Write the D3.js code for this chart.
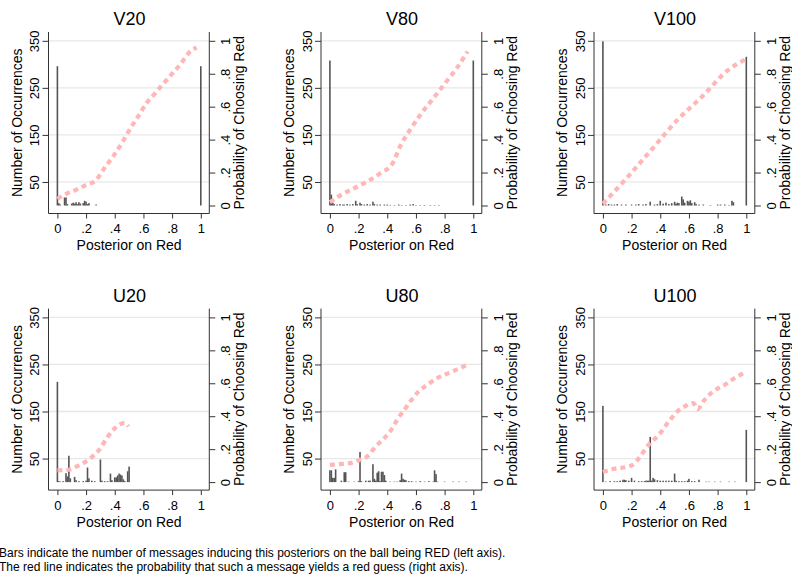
<!DOCTYPE html>
<html><head><meta charset="utf-8">
<script src="https://cdn.jsdelivr.net/npm/d3@7"></script>
<style>
body{margin:0;background:#fff}
svg{display:block}
text{font-family:"Liberation Sans",Arial,Helvetica,sans-serif;fill:#000}
</style>
</head><body>
<svg id="c" width="792" height="579"></svg>
<script>
// ---------- data ----------
const panelNames = ["V20", "V80", "V100", "U20", "U80", "U100"];
const countTicks = [50, 150, 250, 350];
const probTicks = [0, 0.2, 0.4, 0.6, 0.8, 1];
const probTickLabels = ["0", ".2", ".4", ".6", ".8", "1"];
const posteriorTicks = [0, 0.2, 0.4, 0.6, 0.8, 1];
const posteriorTickLabels = ["0", ".2", ".4", ".6", ".8", "1"];
const xTitle = "Posterior on Red";
const leftTitle = "Number of Occurrences";
const rightTitle = "Probability of Choosing Red";
const captionLines = [
  "Bars indicate the number of messages inducing this posteriors on the ball being RED (left axis).",
  "The red line indicates the probability that such a message yields a red guess (right axis)."
];

// V20
const v20BarX = [0, 0.01, 0.02, 0.05, 0.06, 0.07, 0.10, 0.11, 0.12, 0.13, 0.14, 0.15, 0.16, 0.18, 0.19, 0.20, 0.21, 0.22, 0.27, 1];
const v20BarN = [296, 5, 2, 17, 17, 3, 4, 6, 4, 7, 3, 7, 4, 5, 10, 8, 3, 5, 2, 296];
const v20LineX = [0, 0.06, 0.13, 0.2, 0.27, 0.33, 0.39, 0.45, 0.51, 0.57, 0.62, 0.68, 0.74, 0.8, 0.86, 0.91, 0.97];
const v20LineP = [0.04, 0.07, 0.095, 0.125, 0.155, 0.23, 0.3, 0.38, 0.47, 0.55, 0.62, 0.68, 0.74, 0.8, 0.86, 0.92, 0.96];

// V80
const v80BarX = [0, 0.01, 0.02, 0.03, 0.05, 0.07, 0.09, 0.1, 0.12, 0.14, 0.16, 0.18, 0.19, 0.21, 0.22, 0.24, 0.26, 0.28, 0.3, 0.31, 0.33, 0.35, 0.38, 0.4, 0.42, 0.45, 0.48, 0.5, 0.53, 0.56, 0.58, 0.6, 0.63, 0.66, 0.7, 0.73, 0.76, 1];
const v80BarN = [308, 23, 6, 3, 2, 3, 2, 2, 3, 2, 3, 10, 3, 6, 3, 2, 3, 2, 8, 3, 2, 2, 2, 2, 1, 1, 2, 1, 1, 2, 3, 1, 1, 1, 1, 1, 1, 308];
const v80LineX = [0, 0.07, 0.17, 0.26, 0.35, 0.44, 0.49, 0.56, 0.63, 0.73, 0.81, 0.89, 0.96];
const v80LineP = [0.02, 0.06, 0.105, 0.145, 0.195, 0.26, 0.36, 0.46, 0.55, 0.66, 0.75, 0.84, 0.935];

// V100
const v100BarX = [0, 0.02, 0.04, 0.06, 0.08, 0.1, 0.13, 0.16, 0.2, 0.23, 0.25, 0.28, 0.3, 0.33, 0.36, 0.38, 0.4, 0.42, 0.44, 0.46, 0.48, 0.5, 0.51, 0.52, 0.53, 0.55, 0.56, 0.57, 0.59, 0.6, 0.61, 0.62, 0.64, 0.65, 0.67, 0.7, 0.75, 0.8, 0.82, 0.85, 0.88, 0.9, 0.91, 1];
const v100BarN = [349, 2, 3, 2, 2, 3, 2, 2, 2, 2, 3, 2, 3, 8, 2, 3, 10, 4, 6, 3, 5, 8, 4, 6, 5, 19, 13, 6, 10, 8, 11, 5, 7, 3, 2, 2, 1, 2, 2, 2, 1, 10, 7, 316];
const v100LineX = [0, 0.18, 0.36, 0.52, 0.69, 0.87, 0.99];
const v100LineP = [0.01, 0.18, 0.36, 0.52, 0.66, 0.82, 0.885];

// U20
const u20BarX = [0, 0.01, 0.02, 0.04, 0.06, 0.07, 0.08, 0.09, 0.12, 0.13, 0.15, 0.18, 0.2, 0.21, 0.22, 0.24, 0.26, 0.3, 0.31, 0.33, 0.35, 0.37, 0.38, 0.4, 0.41, 0.42, 0.43, 0.44, 0.45, 0.46, 0.47, 0.49, 0.5];
const u20BarN = [213, 2, 1, 2, 19, 12, 56, 8, 11, 4, 2, 2, 3, 31, 8, 3, 2, 48, 3, 2, 2, 18, 4, 10, 10, 14, 18, 16, 14, 6, 2, 23, 33];
const u20LineX = [0, 0.08, 0.135, 0.18, 0.24, 0.3, 0.344, 0.39, 0.437, 0.472, 0.495];
const u20LineP = [0.071, 0.075, 0.095, 0.115, 0.152, 0.206, 0.267, 0.318, 0.352, 0.358, 0.338];

// U80
const u80BarX = [0, 0.01, 0.02, 0.03, 0.04, 0.08, 0.1, 0.11, 0.13, 0.17, 0.2, 0.21, 0.22, 0.25, 0.27, 0.28, 0.3, 0.31, 0.32, 0.33, 0.34, 0.35, 0.36, 0.37, 0.38, 0.39, 0.42, 0.45, 0.47, 0.49, 0.5, 0.51, 0.52, 0.53, 0.55, 0.57, 0.6, 0.63, 0.66, 0.69, 0.72, 0.73, 0.74, 0.75, 0.8, 0.86, 0.9, 0.95];
const u80BarN = [25, 25, 9, 9, 27, 3, 21, 21, 1, 1, 2, 64, 2, 3, 3, 3, 38, 7, 3, 20, 23, 2, 22, 22, 15, 3, 1, 1, 1, 4, 18, 7, 5, 4, 2, 2, 1, 2, 1, 2, 1, 25, 17, 1, 1, 1, 1, 1];
const u80LineX = [0, 0.07, 0.14, 0.21, 0.26, 0.32, 0.38, 0.42, 0.47, 0.52, 0.57, 0.62, 0.68, 0.75, 0.84, 0.95];
const u80LineP = [0.105, 0.109, 0.115, 0.136, 0.156, 0.217, 0.267, 0.308, 0.379, 0.44, 0.5, 0.551, 0.591, 0.632, 0.666, 0.709];

// U100
const u100BarX = [0, 0.02, 0.05, 0.08, 0.1, 0.12, 0.14, 0.15, 0.16, 0.18, 0.2, 0.22, 0.25, 0.27, 0.29, 0.3, 0.31, 0.32, 0.33, 0.34, 0.35, 0.36, 0.38, 0.4, 0.42, 0.44, 0.46, 0.48, 0.5, 0.51, 0.53, 0.55, 0.57, 0.59, 0.6, 0.62, 0.64, 0.67, 0.72, 0.74, 0.78, 0.82, 0.88, 0.92, 1];
const u100BarN = [162, 1, 2, 2, 2, 3, 5, 5, 4, 3, 9, 3, 2, 2, 2, 3, 3, 3, 96, 3, 9, 6, 4, 3, 3, 3, 3, 3, 18, 3, 2, 2, 2, 3, 7, 2, 2, 5, 1, 1, 1, 1, 1, 1, 111];
const u100LineX = [0, 0.08, 0.18, 0.21, 0.26, 0.32, 0.39, 0.46, 0.52, 0.58, 0.63, 0.66, 0.70, 0.77, 0.85, 0.92, 0.99];
const u100LineP = [0.061, 0.081, 0.095, 0.105, 0.156, 0.227, 0.287, 0.368, 0.429, 0.464, 0.48, 0.443, 0.49, 0.551, 0.591, 0.632, 0.666];

const panelBarX = [v20BarX, v80BarX, v100BarX, u20BarX, u80BarX, u100BarX];
const panelBarN = [v20BarN, v80BarN, v100BarN, u20BarN, u80BarN, u100BarN];
const panelLineX = [v20LineX, v80LineX, v100LineX, u20LineX, u80LineX, u100LineX];
const panelLineP = [v20LineP, v80LineP, v100LineP, u20LineP, u80LineP, u100LineP];

// ---------- layout ----------
const svg = d3.select("#c");
const colOff = [0, 272.5, 545.5];
const rowOff = [0, 276.6];
const L = 48.5, R = 209.3, T = 32, B = 213.5;
const x = d3.scaleLinear().domain([0, 1]).range([57.4, 200.8]);
const yN = d3.scaleLinear().domain([0, 350]).range([205.5, 40.8]);
const yP = d3.scaleLinear().domain([0, 1]).range([205.5, 40.8]);
const axisColor = "#333";
const barColor = "#555";
const lineColor = "#ffb6b6";

panelNames.forEach((name, i) => {
  const g = svg.append("g").attr("transform", `translate(${colOff[i % 3]},${rowOff[Math.floor(i / 3)]})`);

  // gridlines
  g.append("g").selectAll("line").data(countTicks).join("line")
    .attr("x1", L).attr("x2", R)
    .attr("y1", d => yN(d)).attr("y2", d => yN(d))
    .attr("stroke", "#e8e8e8").attr("stroke-width", 1.3);

  // bars
  const bars = panelBarX[i].map((v, k) => ({x: v, n: panelBarN[i][k]}));
  g.append("g").selectAll("rect").data(bars).join("rect")
    .attr("x", d => x(d.x) - 0.8).attr("width", 1.6)
    .attr("y", d => yN(d.n)).attr("height", d => yN(0) - yN(d.n))
    .attr("fill", barColor);

  // line
  const pts = panelLineX[i].map((v, k) => [v, panelLineP[i][k]]);
  g.append("path").datum(pts)
    .attr("d", d3.line().x(d => x(d[0])).y(d => yP(d[1])).curve(d3.curveMonotoneX))
    .attr("fill", "none").attr("stroke", lineColor).attr("stroke-width", 4.2)
    .attr("stroke-dasharray", "5,4");

  // left axis
  const la = g.append("g").attr("transform", `translate(${L},0)`)
    .call(d3.axisLeft(yN).tickValues(countTicks).tickSize(6).tickSizeOuter(0));
  la.select(".domain").remove();
  la.append("line").attr("y1", T).attr("y2", B).attr("stroke", axisColor);
  la.selectAll(".tick line").attr("stroke", axisColor);
  la.selectAll(".tick text").attr("x", null).attr("dy", null).attr("y", null)
    .attr("text-anchor", "middle").attr("transform", "translate(-9.5,0) rotate(-90)")
    .style("font-size", "13px").attr("fill", "#000");
  la.attr("font-family", null).attr("font-size", null);

  // right axis
  const ra = g.append("g").attr("transform", `translate(${R},0)`)
    .call(d3.axisRight(yP).tickValues(probTicks).tickFormat((d, k) => probTickLabels[k]).tickSize(6).tickSizeOuter(0));
  ra.select(".domain").remove();
  ra.append("line").attr("y1", T).attr("y2", B).attr("stroke", axisColor);
  ra.selectAll(".tick line").attr("stroke", axisColor);
  ra.selectAll(".tick text").attr("x", null).attr("dy", null).attr("y", null)
    .attr("text-anchor", "middle").attr("transform", "translate(20.7,0) rotate(-90)")
    .style("font-size", "13px").attr("fill", "#000");
  ra.attr("font-family", null).attr("font-size", null);

  // bottom axis
  const ba = g.append("g").attr("transform", `translate(0,${B})`)
    .call(d3.axisBottom(x).tickValues(posteriorTicks).tickFormat((d, k) => posteriorTickLabels[k]).tickSize(5).tickSizeOuter(0));
  ba.select(".domain").remove();
  ba.append("line").attr("x1", L).attr("x2", R).attr("stroke", axisColor);
  ba.selectAll(".tick line").attr("stroke", axisColor);
  ba.selectAll(".tick text").attr("dy", null).attr("y", 19.5)
    .style("font-size", "13px").attr("fill", "#000");
  ba.attr("font-family", null).attr("font-size", null);

  // titles
  g.append("text").attr("x", (x(0) + x(1)) / 2 + 0.5).attr("y", 25)
    .attr("text-anchor", "middle").style("font-size", "18px").text(name);
  g.append("text").attr("x", (x(0) + x(1)) / 2).attr("y", 250)
    .attr("text-anchor", "middle").style("font-size", "14px").text(xTitle);
  g.append("text").attr("transform", `translate(21.5,${(T + B) / 2}) rotate(-90)`)
    .attr("text-anchor", "middle").style("font-size", "14px").text(leftTitle);
  g.append("text").attr("transform", `translate(244,${(T + B) / 2}) rotate(-90)`)
    .attr("text-anchor", "middle").style("font-size", "14px").text(rightTitle);
});

// caption
svg.append("g").selectAll("text").data(captionLines).join("text")
  .attr("x", -1).attr("y", (d, k) => 557 + k * 13.5)
  .style("font-size", "12px").text(d => d);
</script>
</body></html>
